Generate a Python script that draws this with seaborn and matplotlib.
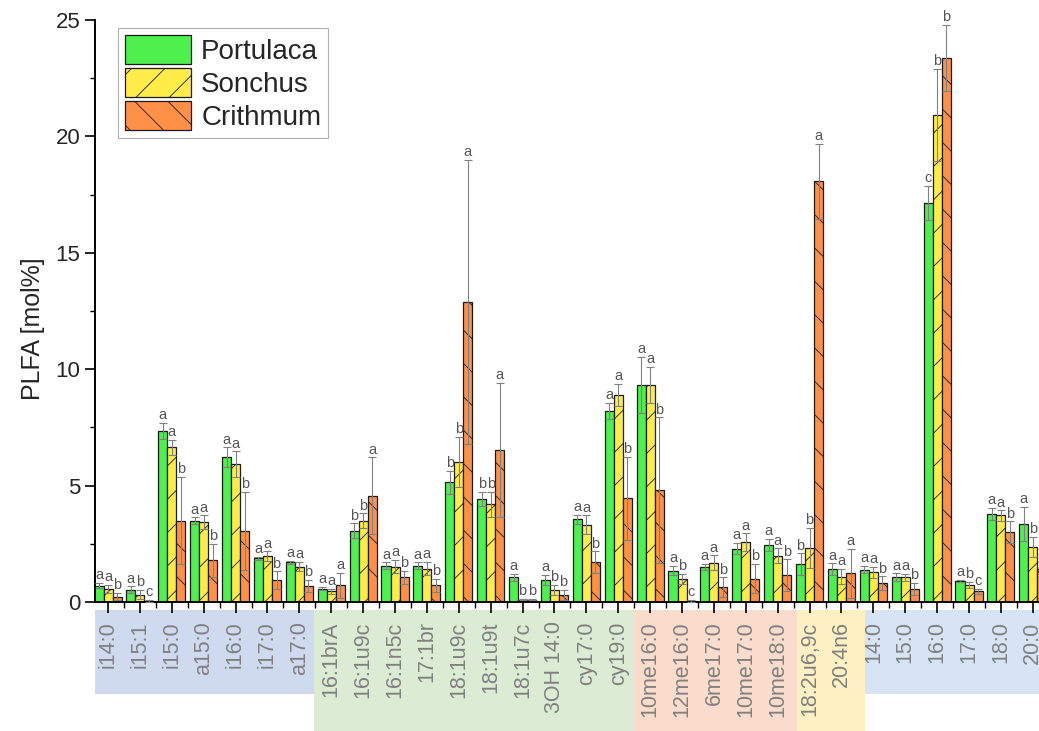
import numpy as np
import pandas as pd
import matplotlib
matplotlib.use("Agg")
import matplotlib.pyplot as plt
import seaborn as sns
from matplotlib.patches import Rectangle

categories = ["i14:0", "i15:1", "i15:0", "a15:0", "i16:0", "i17:0", "a17:0",
              "16:1brA", "16:1u9c", "16:1n5c", "17:1br", "18:1u9c", "18:1u9t",
              "18:1u7c", "3OH 14:0", "cy17:0", "cy19:0",
              "10me16:0", "12me16:0", "6me17:0", "10me17:0", "10me18:0",
              "18:2u6,9c", "20:4n6",
              "14:0", "15:0", "16:0", "17:0", "18:0", "20:0"]
species = ["Portulaca", "Sonchus", "Crithmum"]

portulaca = [0.70, 0.52, 7.35, 3.48, 6.21, 1.87, 1.70,
             0.57, 3.06, 1.56, 1.56, 5.14, 4.42, 1.06, 0.94, 3.56, 8.21,
             9.33, 1.34, 1.50, 2.29, 2.45,
             1.63, 1.42,
             1.39, 1.06, 17.14, 0.90, 3.79, 3.36]
sonchus = [0.55, 0.31, 6.64, 3.42, 5.92, 1.97, 1.52,
           0.46, 3.49, 1.52, 1.43, 6.02, 4.19, 0.10, 0.52, 3.32, 8.90,
           9.33, 0.99, 1.69, 2.58, 1.99,
           2.33, 1.09,
           1.27, 1.06, 20.93, 0.72, 3.72, 2.37]
crithmum = [0.23, 0.05, 3.50, 1.79, 3.06, 0.94, 0.69,
            0.72, 4.56, 1.06, 0.72, 12.90, 6.52, 0.10, 0.31, 1.72, 4.45,
            4.81, 0.05, 0.64, 1.00, 1.16,
            18.07, 1.23,
            0.80, 0.57, 23.38, 0.46, 3.00, 1.40]

err_portulaca = [0.12, 0.15, 0.35, 0.15, 0.43, 0.08, 0.06,
                 0.07, 0.32, 0.14, 0.14, 0.48, 0.31, 0.14, 0.23, 0.19, 0.34,
                 1.20, 0.20, 0.14, 0.25, 0.27,
                 0.46, 0.24,
                 0.15, 0.17, 0.73, 0.06, 0.26, 0.73]
err_sonchus = [0.18, 0.20, 0.34, 0.30, 0.55, 0.21, 0.20,
               0.11, 0.32, 0.28, 0.29, 1.07, 0.54, 0.03, 0.21, 0.40, 0.46,
               0.78, 0.21, 0.31, 0.37, 0.31,
               0.86, 0.33,
               0.23, 0.14, 1.97, 0.14, 0.22, 0.43]
err_crithmum = [0.15, 0.05, 1.88, 0.70, 1.67, 0.38, 0.25,
                0.54, 1.65, 0.28, 0.28, 6.10, 2.89, 0.03, 0.21, 0.46, 1.79,
                3.12, 0.03, 0.42, 0.63, 0.67,
                1.62, 1.06,
                0.30, 0.26, 1.42, 0.11, 0.46, 0.30]

letters_portulaca = ["a", "a", "a", "a", "a", "a", "a",
                     "a", "b", "a", "a", "b", "b", "a", "a", "a", "a",
                     "a", "a", "a", "a", "a",
                     "b", "a",
                     "a", "a", "c", "a", "a", "a"]
letters_sonchus = ["a", "b", "a", "a", "a", "a", "a",
                   "a", "b", "a", "a", "b", "b", "b", "b", "a", "a",
                   "a", "b", "a", "a", "a",
                   "b", "a",
                   "a", "a", "b", "b", "a", "b"]
letters_crithmum = ["b", "c", "b", "b", "b", "b", "b",
                    "a", "a", "b", "b", "a", "a", "b", "b", "b", "b",
                    "b", "c", "b", "b", "b",
                    "a", "a",
                    "b", "b", "b", "c", "b", "b"]

group_sizes = [7, 10, 5, 2, 6]
group_colors = ["#cfdaee", "#dcebd4", "#f9dccb", "#fdf0c2", "#d6e4f4"]
group_tall = [False, True, True, True, False]

bar_colors = ["#4df04d", "#ffec48", "#ff9147"]
hatches = ["", "/", "\\"]

df = pd.DataFrame({
    "lipid": categories * 3,
    "species": np.repeat(species, len(categories)),
    "value": portulaca + sonchus + crithmum,
})

sns.set_style("ticks")
plt.rcParams["font.family"] = ["Liberation Sans", "DejaVu Sans"]
plt.rcParams["hatch.linewidth"] = 0.6

fig = plt.figure(figsize=(10.39, 7.31), dpi=100)
ax = fig.add_axes([0.0914, 0.1765, 0.918, 0.796])

sns.barplot(data=df, x="lipid", y="value", hue="species", order=categories,
            hue_order=species, palette=bar_colors, width=0.85, errorbar=None,
            edgecolor="#1a1a1a", linewidth=0.9, saturation=1, ax=ax, legend=False)

errs = [err_portulaca, err_sonchus, err_crithmum]
vals = [portulaca, sonchus, crithmum]
lets = [letters_portulaca, letters_sonchus, letters_crithmum]
for cont, h, v, e, l in zip(ax.containers, hatches, vals, errs, lets):
    xs = []
    for bar in cont:
        bar.set_hatch(h)
        xs.append(bar.get_x() + bar.get_width() / 2)
    ax.errorbar(xs, v, yerr=e, fmt="none", ecolor="#808080", elinewidth=0.8,
                capsize=3, capthick=0.8, zorder=3)
    for x, vv, ee, ll in zip(xs, v, e, l):
        ax.annotate(ll, (x, vv + ee), xytext=(0, 0.5), textcoords="offset points",
                    ha="center", va="bottom", fontsize=10.5, color="#555555")

ax.set_xlim(-0.41, 29.5)
ax.set_ylim(0, 25)
ax.set_yticks([0, 5, 10, 15, 20, 25])
ax.set_yticks(np.arange(2.5, 25, 5), minor=True)
ax.set_xticks(np.arange(len(categories)) + 0.5, minor=True)
sns.despine(ax=ax)
for s in ["left", "bottom"]:
    ax.spines[s].set_linewidth(1.4)
    ax.spines[s].set_color("black")
ax.tick_params(axis="x", which="major", length=8, width=1.2, direction="out",
               labelrotation=90, labelsize=15.5, labelcolor="#808080", pad=6, color="black")
ax.tick_params(axis="x", which="minor", length=4, width=1.0, direction="out", color="black")
ax.tick_params(axis="y", which="major", length=7, width=1.2, direction="out",
               labelsize=16, color="black")
ax.tick_params(axis="y", which="minor", length=3.5, width=1.0, direction="out", color="black")
ax.set_xlabel("")
ax.set_ylabel("PLFA [mol%]", fontsize=18)
ax.yaxis.set_label_coords(-0.052, 0.47)

# category group bands below the axis
trans = ax.get_xaxis_transform()
edges = [-0.41, 6.45, 16.5, 21.6, 23.75, 29.6]
for i, (c, tall) in enumerate(zip(group_colors, group_tall)):
    x0, x1 = edges[i], edges[i + 1]
    y_bot = -0.222 if tall else -0.158
    ax.add_patch(Rectangle((x0, y_bot), x1 - x0, -0.0137 - y_bot, transform=trans,
                           facecolor=c, edgecolor="none", clip_on=False, zorder=0))

handles = [cont[0] for cont in ax.containers]
leg = ax.legend(handles, species, loc="upper left", bbox_to_anchor=(0.024, 0.986),
                borderaxespad=0, fontsize=20, handlelength=2.4, handleheight=1.2,
                labelspacing=0.12, borderpad=0.25, handletextpad=0.35,
                fancybox=False, edgecolor="#b0b0b0", framealpha=1)
leg.get_frame().set_linewidth(0.8)

fig.savefig("out.png", dpi=100)
